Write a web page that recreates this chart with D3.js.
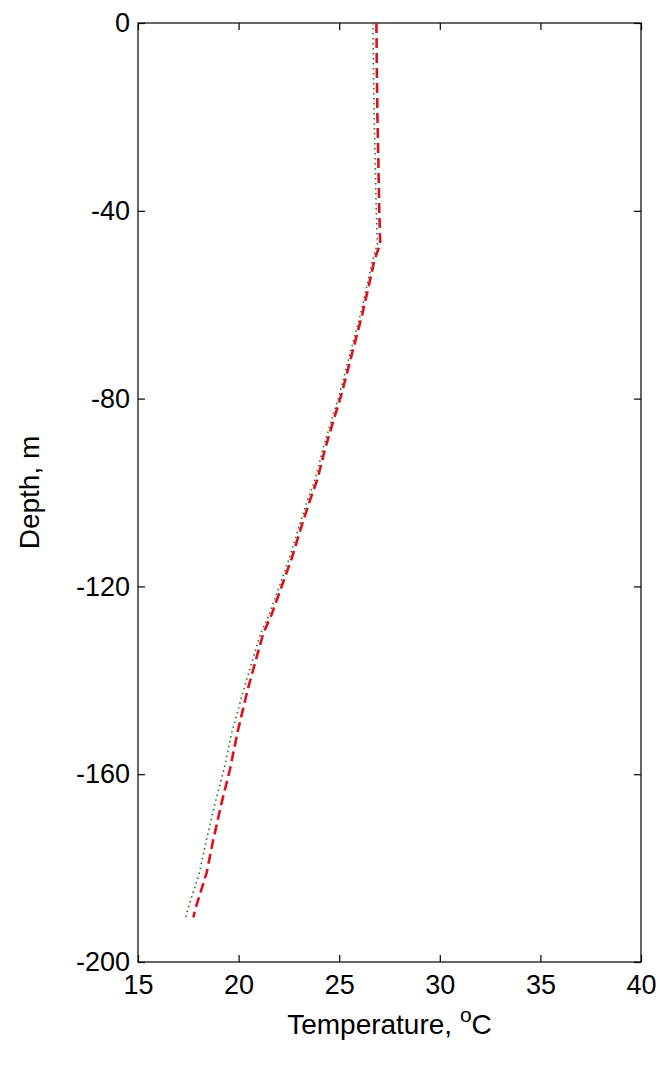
<!DOCTYPE html>
<html>
<head>
<meta charset="utf-8">
<script src="https://cdn.jsdelivr.net/npm/d3@7"></script>
<style>
  html, body { margin: 0; padding: 0; background: #fff; }
  svg { display: block; }
  text { font-family: "Liberation Sans", Arial, sans-serif; fill: #000; }
</style>
</head>
<body>
<svg id="chart" width="660" height="1066"></svg>
<script>
// ---- data ----
const depths = [0, -10, -20, -30, -40, -47, -50.5, -55, -62, -72, -79, -86, -91, -97, -102, -107, -114, -121, -126, -130, -135, -142, -151, -159, -166, -174, -181, -189, -190.5];
const tempRed = [26.85, 26.87, 26.9, 26.95, 26.99, 27.04, 26.75, 26.52, 26.15, 25.54, 25.12, 24.62, 24.28, 23.93, 23.52, 23.14, 22.64, 22.06, 21.64, 21.23, 20.9, 20.45, 19.95, 19.57, 19.16, 18.74, 18.41, 17.83, 17.75];
const tempGreen = [26.68, 26.7, 26.74, 26.79, 26.84, 26.9, 26.66, 26.43, 26.06, 25.44, 25.02, 24.52, 24.17, 23.82, 23.4, 23.02, 22.52, 21.94, 21.52, 21.1, 20.74, 20.25, 19.67, 19.27, 18.84, 18.4, 18.05, 17.46, 17.38];
const xTicks = [15, 20, 25, 30, 35, 40];
const yTicks = [0, -40, -80, -120, -160, -200];
const xLabel = "Temperature, ";
const xLabelSup = "o";
const xLabelUnit = "C";
const yLabel = "Depth, m";

// ---- layout ----
const svg = d3.select("#chart");
const mLeft = 138, mRight = 641, mTop = 23, mBottom = 962;
const x = d3.scaleLinear().domain([15, 40]).range([mLeft, mRight]);
const y = d3.scaleLinear().domain([-200, 0]).range([mBottom, mTop]);
const fs = 27;
const fsTitle = 28;
const tickLen = 7;

// frame
svg.append("rect")
  .attr("x", mLeft).attr("y", mTop)
  .attr("width", mRight - mLeft).attr("height", mBottom - mTop)
  .attr("fill", "none").attr("stroke", "#000").attr("stroke-width", 1.2);

// axes with inward ticks
const axB = svg.append("g").attr("transform", `translate(0,${mBottom})`)
  .call(d3.axisBottom(x).tickValues(xTicks).tickSize(-tickLen).tickPadding(13).tickFormat(d3.format("d")));
const axT = svg.append("g").attr("transform", `translate(0,${mTop})`)
  .call(d3.axisTop(x).tickValues(xTicks).tickSize(-tickLen).tickFormat(""));
const axL = svg.append("g").attr("transform", `translate(${mLeft},0)`)
  .call(d3.axisLeft(y).tickValues(yTicks).tickSize(-tickLen).tickPadding(8).tickFormat(d => d === 0 ? "0" : "-" + Math.abs(d)));
const axR = svg.append("g").attr("transform", `translate(${mRight},0)`)
  .call(d3.axisRight(y).tickValues(yTicks).tickSize(-tickLen).tickFormat(""));

[axB, axT, axL, axR].forEach(g => {
  g.select(".domain").remove();
  g.selectAll(".tick line").attr("stroke", "#000").attr("stroke-width", 1.2);
  g.selectAll(".tick text").attr("font-size", fs).attr("font-family", "Liberation Sans, Arial, sans-serif").attr("fill", "#000");
});
axB.selectAll(".tick text").attr("dy", "0.71em");

// lines
svg.append("defs").append("clipPath").attr("id", "clip")
  .append("rect").attr("x", mLeft).attr("y", mTop).attr("width", mRight - mLeft).attr("height", mBottom - mTop);

const lineGen = d3.line().x(d => x(d[0])).y(d => y(d[1]));

svg.append("path")
  .datum(tempGreen.map((t, i) => [t, depths[i]]))
  .attr("d", lineGen)
  .attr("fill", "none")
  .attr("stroke", "#1a7a2a")
  .attr("stroke-width", 1.6)
  .attr("stroke-dasharray", "1.5,3.5")
  .attr("clip-path", "url(#clip)");

svg.append("path")
  .datum(tempRed.map((t, i) => [t, depths[i]]))
  .attr("d", lineGen)
  .attr("fill", "none")
  .attr("stroke", "#e0101a")
  .attr("stroke-width", 2.6)
  .attr("stroke-dasharray", "10,5")
  .attr("clip-path", "url(#clip)");

// axis titles
const xt = svg.append("text")
  .attr("x", (mLeft + mRight) / 2)
  .attr("y", 1034)
  .attr("text-anchor", "middle")
  .attr("font-size", fsTitle);
xt.append("tspan").text(xLabel);
xt.append("tspan").attr("font-size", fsTitle * 0.75).attr("dy", -12).text(xLabelSup);
xt.append("tspan").attr("dy", 12).text(xLabelUnit);

svg.append("text")
  .attr("transform", `translate(39,${(mTop + mBottom) / 2}) rotate(-90)`)
  .attr("text-anchor", "middle")
  .attr("font-size", fsTitle)
  .text(yLabel);
</script>
</body>
</html>
